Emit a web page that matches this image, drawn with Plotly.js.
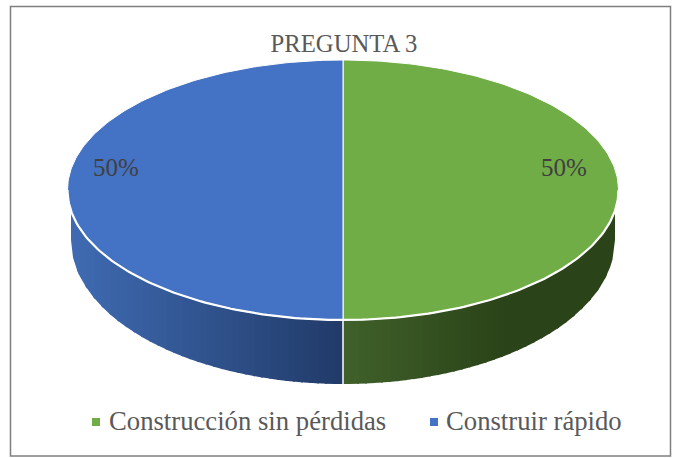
<!DOCTYPE html>
<html><head><meta charset="utf-8">
<script src="https://cdn.plot.ly/plotly-3.0.1.min.js"></script>
<style>html,body{margin:0;padding:0;background:#fff}#c{width:681px;height:458px}</style>
</head><body><div id="c"></div>
<script>
const categories = ["Construcción sin pérdidas", "Construir rápido"];
const values = [50, 50];
const chartTitle = "PREGUNTA 3";
const faceColors = ["#70AD47", "#4472C4"];
const wallInner = ["#40612A", "#213A68"];   // at the centre of the pie
const wallOuter = ["#2A4318", "#3F6BB2"];   // at the rim of the pie
const labelAnchorX = [564, 116];
const labelAnchorY = 170;
const legendMarkerX = [96, 434];
const legendTextX = [109, 446];
const legendY = 423;

const CX = 343, TOP = {cy:190, rx:275.5, ry:130}, BOT = {cy:240, rx:272, ry:144};
const total = values.reduce((a,b)=>a+b,0);
const deg = Math.PI/180;
const hex = c => [1,3,5].map(i=>parseInt(c.substr(i,2),16));
const mix = (a,b,t) => { const A=hex(a),B=hex(b); return 'rgb('+A.map((v,i)=>Math.round(v+(B[i]-v)*t)).join(',')+')'; };
const edgeY = (e,dx) => e.cy + e.ry*Math.sqrt(Math.max(0,1-(dx*dx)/(e.rx*e.rx)));

const traces = [];
let start = 0;
const spans = values.map(v => { const s=[start,start+v/total*360]; start=s[1]; return s; });

// side wall
spans.forEach((s,i) => {
  const a = Math.max(s[0],90), b = Math.min(s[1],270);
  if (b <= a) return;
  const d1 = BOT.rx*Math.sin(a*deg), d2 = BOT.rx*Math.sin(b*deg);
  const n = 34;
  for (let k=0;k<n;k++){
    const p=d1+(d2-d1)*k/n, q=d1+(d2-d1)*Math.min(1,(k+1.25)/n);
    const xs=[],ys=[];
    for(let j=0;j<=4;j++){const d=p+(q-p)*j/4; xs.push(CX+d); ys.push(edgeY(TOP,d)-1);}
    for(let j=4;j>=0;j--){const d=p+(q-p)*j/4; xs.push(CX+d); ys.push(edgeY(BOT,d));}
    const t=Math.min(1,Math.abs(p+(q-p)/2)/BOT.rx*(i===0?1.7:1));
    traces.push({x:xs,y:ys,mode:'lines',fill:'toself',fillcolor:mix(wallInner[i],wallOuter[i],t),
      line:{width:0},hoverinfo:'skip',showlegend:false});
  }
});
// wall seams between slices
spans.forEach(s => {
  const a=s[0]*deg;
  if (Math.cos(a) < 0) {
    const d=BOT.rx*Math.sin(a);
    traces.push({x:[CX+d,CX+d],y:[edgeY(TOP,d),edgeY(BOT,d)],mode:'lines',line:{color:'#fff',width:1.5},hoverinfo:'skip',showlegend:false});
  }
});
// top face
spans.forEach((s,i) => {
  const xs=[CX],ys=[TOP.cy];
  for(let a=s[0];a<=s[1]+1e-6;a+=1){xs.push(CX+TOP.rx*Math.sin(a*deg));ys.push(TOP.cy-TOP.ry*Math.cos(a*deg));}
  xs.push(CX);ys.push(TOP.cy);
  traces.push({x:xs,y:ys,mode:'lines',fill:'toself',fillcolor:faceColors[i],line:{color:'#fff',width:1},
    name:categories[i],hoverinfo:'skip',showlegend:false});
});
// white rim along the front of the top face
{
  const xs=[],ys=[];
  for(let a=90;a<=270;a+=1){xs.push(CX+TOP.rx*Math.sin(a*deg));ys.push(TOP.cy-TOP.ry*Math.cos(a*deg));}
  traces.push({x:xs,y:ys,mode:'lines',line:{color:'#fff',width:2.2},hoverinfo:'skip',showlegend:false});
}
// percent labels
traces.push({x:labelAnchorX,y:values.map(()=>labelAnchorY),mode:'text',
  text:values.map(v=>Math.round(v/total*100)+'%'),textposition:'middle center',
  textfont:{family:'"Liberation Serif",serif',size:25,color:'#404040'},hoverinfo:'skip',showlegend:false});
// legend
traces.push({x:legendMarkerX,y:categories.map(()=>legendY-1),mode:'markers',
  marker:{symbol:'square',size:8,color:faceColors},hoverinfo:'skip',showlegend:false});
traces.push({x:legendTextX,y:categories.map(()=>legendY),mode:'text',text:categories,textposition:'middle right',
  textfont:{family:'"Liberation Serif",serif',size:26.7,color:'#595959'},hoverinfo:'skip',showlegend:false});

Plotly.newPlot('c',traces,{
  width:681,height:458,margin:{l:0,r:0,t:0,b:0},paper_bgcolor:'#fff',plot_bgcolor:'#fff',showlegend:false,
  title:{text:chartTitle,x:344/681,xanchor:'center',y:1-43/458,yanchor:'middle',
    font:{family:'"Liberation Serif",serif',size:24.7,color:'#595959'}},
  xaxis:{range:[0,681],visible:false,fixedrange:true},
  yaxis:{range:[458,0],visible:false,fixedrange:true},
  shapes:[{type:'rect',xref:'x',yref:'y',x0:10.5,x1:670.5,y0:6.5,y1:456,line:{color:'#7f7f7f',width:1.5},fillcolor:'rgba(0,0,0,0)',layer:'below'}]
},{staticPlot:true,displayModeBar:false});
</script></body></html>
